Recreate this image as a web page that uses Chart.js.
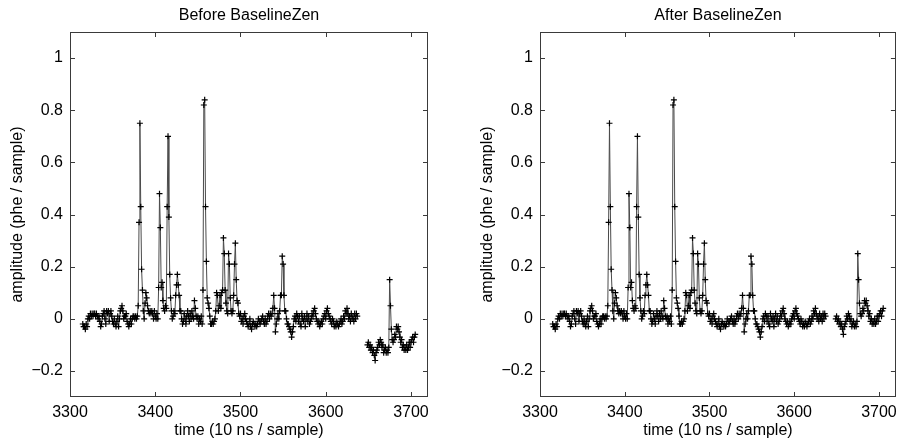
<!DOCTYPE html>
<html>
<head>
<meta charset="utf-8">
<script src="https://cdn.jsdelivr.net/npm/chart.js@4"></script>
<style>
  html, body { margin: 0; padding: 0; background: #fff; }
  #wrap { position: relative; width: 903px; height: 442px; overflow: hidden; }
  canvas { position: absolute; top: 0; }
  #before { left: 0; }
  #after { left: 470px; }
</style>
</head>
<body>
<div id="wrap">
  <canvas id="before" width="440" height="442"></canvas>
  <canvas id="after" width="433" height="442"></canvas>
</div>
<script>
// axis ticks
const xTicks = [3300, 3400, 3500, 3600, 3700]
const yTicks = [-0.2, 0, 0.2, 0.4, 0.6, 0.8, 1]
const yTickLabels = ["\u22120.2", "0", "0.2", "0.4", "0.6", "0.8", "1"]

// first sample of each stretch of the record
const mainStart = 3315
const tailStart = 3649

// samples 3315..3637, the same in both panels
const mainValues = [
  -0.02, -0.03, -0.03, -0.04, -0.02, -0.03, 0.00, 0.01, 0.00, 0.02,
  0.01, 0.02, 0.01, 0.02, 0.02, 0.01, 0.02, 0.01, 0.00, 0.01,
  -0.01, -0.03, -0.02, 0.01, 0.02, 0.03, 0.00, -0.02, 0.03, 0.02,
  0.03, -0.01, 0.02, 0.03, 0.01, -0.01, -0.02, 0.00, -0.02, -0.03,
  -0.01, 0.01, -0.03, 0.00, 0.03, 0.04, 0.05, 0.03, 0.00, 0.01,
  0.01, 0.02, -0.01, -0.02, -0.03, -0.02, 0.00, -0.02, 0.00, 0.01,
  0.01, 0.00, 0.01, 0.00, 0.01, 0.05, 0.37, 0.75, 0.43, 0.19,
  0.11, 0.03, 0.00, 0.06, 0.10, 0.08, 0.05, 0.03, 0.02, 0.03,
  0.02, 0.03, 0.02, 0.00, 0.03, 0.01, 0.00, 0.02, 0.00, 0.12,
  0.48, 0.35, 0.12, 0.14, 0.07, 0.04, 0.03, 0.05, 0.04, 0.43,
  0.70, 0.39, 0.17, 0.08, 0.03, 0.00, 0.01, 0.03, 0.02, 0.09,
  0.13, 0.17, 0.13, 0.09, 0.03, 0.03, 0.00, -0.02, -0.01, 0.02,
  0.00, -0.02, 0.01, 0.03, 0.01, -0.01, 0.02, 0.00, 0.03, 0.01,
  0.00, 0.07, 0.04, 0.01, 0.00, 0.01, -0.02, 0.00, -0.01, 0.01,
  -0.02, 0.11, 0.82, 0.84, 0.43, 0.22, 0.08, 0.06, 0.04, 0.01,
  -0.02, -0.02, -0.01, -0.02, -0.01, 0.00, 0.03, 0.10, 0.09, 0.03,
  0.05, 0.09, 0.04, 0.10, 0.11, 0.31, 0.25, 0.11, 0.06, 0.03,
  0.02, 0.25, 0.21, 0.08, 0.03, 0.02, 0.03, 0.09, 0.21, 0.29,
  0.15, 0.07, 0.06, 0.02, 0.01, 0.02, -0.01, 0.00, -0.02, 0.01,
  0.02, 0.00, -0.01, -0.02, -0.03, -0.02, 0.00, -0.03, -0.04, -0.02,
  -0.01, -0.02, -0.03, -0.02, -0.03, -0.02, 0.00, -0.01, -0.02, -0.01,
  0.00, 0.01, -0.01, -0.02, 0.00, -0.02, -0.01, 0.01, 0.02, 0.00,
  0.02, 0.01, 0.02, 0.04, 0.09, 0.04, -0.05, -0.02, 0.00, 0.02,
  0.00, 0.03, 0.09, 0.09, 0.24, 0.21, 0.09, 0.03, 0.03, 0.00,
  -0.02, -0.02, -0.03, -0.04, -0.05, -0.07, -0.05, -0.03, 0.00, 0.01,
  -0.01, 0.02, 0.01, -0.01, 0.01, -0.02, -0.03, 0.02, 0.00, -0.01,
  0.01, -0.03, 0.00, 0.02, -0.01, 0.01, -0.02, -0.01, 0.00, 0.02,
  0.01, 0.03, 0.04, 0.02, 0.00, -0.01, -0.02, -0.01, -0.03, -0.02,
  -0.01, -0.02, 0.00, 0.01, 0.02, 0.00, 0.03, 0.04, 0.02, 0.01,
  0.00, -0.01, -0.02, 0.00, -0.01, -0.03, -0.02, -0.03, -0.01, -0.02,
  -0.03, -0.02, -0.01, 0.00, -0.02, -0.01, 0.01, 0.00, 0.03, 0.02,
  0.04, 0.02, 0.00, 0.01, -0.01, 0.02, 0.00, 0.01, -0.01, 0.02,
  0.00, 0.02, 0.01
]

// samples 3649..3705 before the baseline correction
const tailBefore = [
  -0.10, -0.09, -0.11, -0.10, -0.12, -0.11, -0.13, -0.12, -0.14, -0.16,
  -0.13, -0.12, -0.11, -0.09, -0.10, -0.08, -0.09, -0.11, -0.10, -0.13,
  -0.12, -0.11, -0.13, -0.12, -0.13, -0.11, 0.15, 0.05, -0.04, -0.08,
  -0.09, -0.08, -0.06, -0.07, -0.03, -0.04, -0.03, -0.05, -0.07, -0.09,
  -0.08, -0.11, -0.10, -0.12, -0.11, -0.12, -0.10, -0.12, -0.11, -0.09,
  -0.11, -0.09, -0.08, -0.07, -0.09, -0.07, -0.06
]

// samples 3649..3705 after it
const tailAfter = [
  0.00, 0.01, -0.01, 0.00, -0.02, -0.01, -0.03, -0.02, -0.04, -0.06,
  -0.03, -0.02, -0.01, 0.01, 0.00, 0.02, 0.01, -0.01, 0.00, -0.03,
  -0.02, -0.01, -0.03, -0.02, -0.03, -0.01, 0.25, 0.15, 0.06, 0.02,
  0.01, 0.02, 0.04, 0.03, 0.07, 0.06, 0.07, 0.05, 0.03, 0.01,
  0.02, -0.01, 0.00, -0.02, -0.01, -0.02, 0.00, -0.02, -0.01, 0.01,
  -0.01, 0.01, 0.02, 0.03, 0.01, 0.03, 0.04
]

Chart.defaults.font.family = "'Liberation Sans', Arial, sans-serif"
Chart.defaults.color = "#000"

function toPoints(main, tail) {
  const pts = main.map((v, i) => ({ x: mainStart + i, y: v }))
  pts.push({ x: (mainStart + main.length + tailStart) / 2, y: null }) // break in the record
  tail.forEach((v, i) => pts.push({ x: tailStart + i, y: v }))
  return pts
}

// matlab style box with inward ticks, title centred over the axes
const boxPlugin = {
  id: "box",
  beforeDatasetsDraw(chart, args, opts) {
    const { ctx, chartArea: a, scales } = chart
    ctx.save()
    ctx.strokeStyle = "#3a3a3a"
    ctx.lineWidth = 1
    ctx.strokeRect(Math.round(a.left) + 0.5, Math.round(a.top) + 0.5, Math.round(a.width) - 1, Math.round(a.height) - 1)
    ctx.beginPath()
    xTicks.forEach((t) => {
      const px = Math.round(scales.x.getPixelForValue(t)) + 0.5
      ctx.moveTo(px, a.bottom)
      ctx.lineTo(px, a.bottom - 5)
      ctx.moveTo(px, a.top)
      ctx.lineTo(px, a.top + 5)
    })
    yTicks.forEach((t) => {
      const py = Math.round(scales.y.getPixelForValue(t)) + 0.5
      ctx.moveTo(a.left, py)
      ctx.lineTo(a.left + 5, py)
      ctx.moveTo(a.right, py)
      ctx.lineTo(a.right - 5, py)
    })
    ctx.stroke()

    ctx.fillStyle = "#000"
    ctx.font = "16px 'Liberation Sans', Arial, sans-serif"
    ctx.textAlign = "center"
    ctx.textBaseline = "middle"
    ctx.fillText(opts.text, (a.left + a.right) / 2, 16)
    ctx.restore()
  },
}

function makeChart(id, title, values, padRight) {
  const ctx = document.getElementById(id).getContext("2d")
  return new Chart(ctx, {
    type: "line",
    data: {
      datasets: [
        {
          data: values,
          borderColor: "#4a4a4a",
          borderWidth: 1,
          pointStyle: "cross",
          pointRadius: 3,
          pointBorderColor: "#000",
          pointBorderWidth: 1.2,
          spanGaps: false,
          tension: 0,
        },
      ],
    },
    options: {
      responsive: false,
      animation: false,
      layout: { padding: { left: 0, right: padRight, top: 32, bottom: 0 } },
      plugins: {
        legend: { display: false },
        tooltip: { enabled: false },
        title: { display: false },
        box: { text: title },
      },
      scales: {
        x: {
          type: "linear",
          min: 3300,
          max: 3720,
          afterBuildTicks: (s) => { s.ticks = xTicks.map((v) => ({ value: v })) },
          afterFit: (s) => { s.height = 45 },
          grid: { display: false, drawTicks: false },
          border: { display: false },
          ticks: { font: { size: 16 }, padding: 6, maxRotation: 0, autoSkip: false, callback: (v) => String(v) },
          title: { display: true, text: "time (10 ns / sample)", font: { size: 16 }, padding: { top: 2, bottom: 2 } },
        },
        y: {
          type: "linear",
          min: -0.3,
          max: 1.1,
          afterBuildTicks: (s) => { s.ticks = yTicks.map((v) => ({ value: v })) },
          afterFit: (s) => { s.width = 70 },
          grid: { display: false, drawTicks: false },
          border: { display: false },
          ticks: { font: { size: 16 }, padding: 7, callback: (v) => yTickLabels[yTicks.indexOf(v)] },
          title: { display: true, text: "amplitude (phe / sample)", font: { size: 16 }, padding: { top: 8, bottom: 8 } },
        },
      },
    },
    plugins: [boxPlugin],
  })
}

makeChart("before", "Before BaselineZen", toPoints(mainValues, tailBefore), 12)
makeChart("after", "After BaselineZen", toPoints(mainValues, tailAfter), 5)
</script>
</body>
</html>
